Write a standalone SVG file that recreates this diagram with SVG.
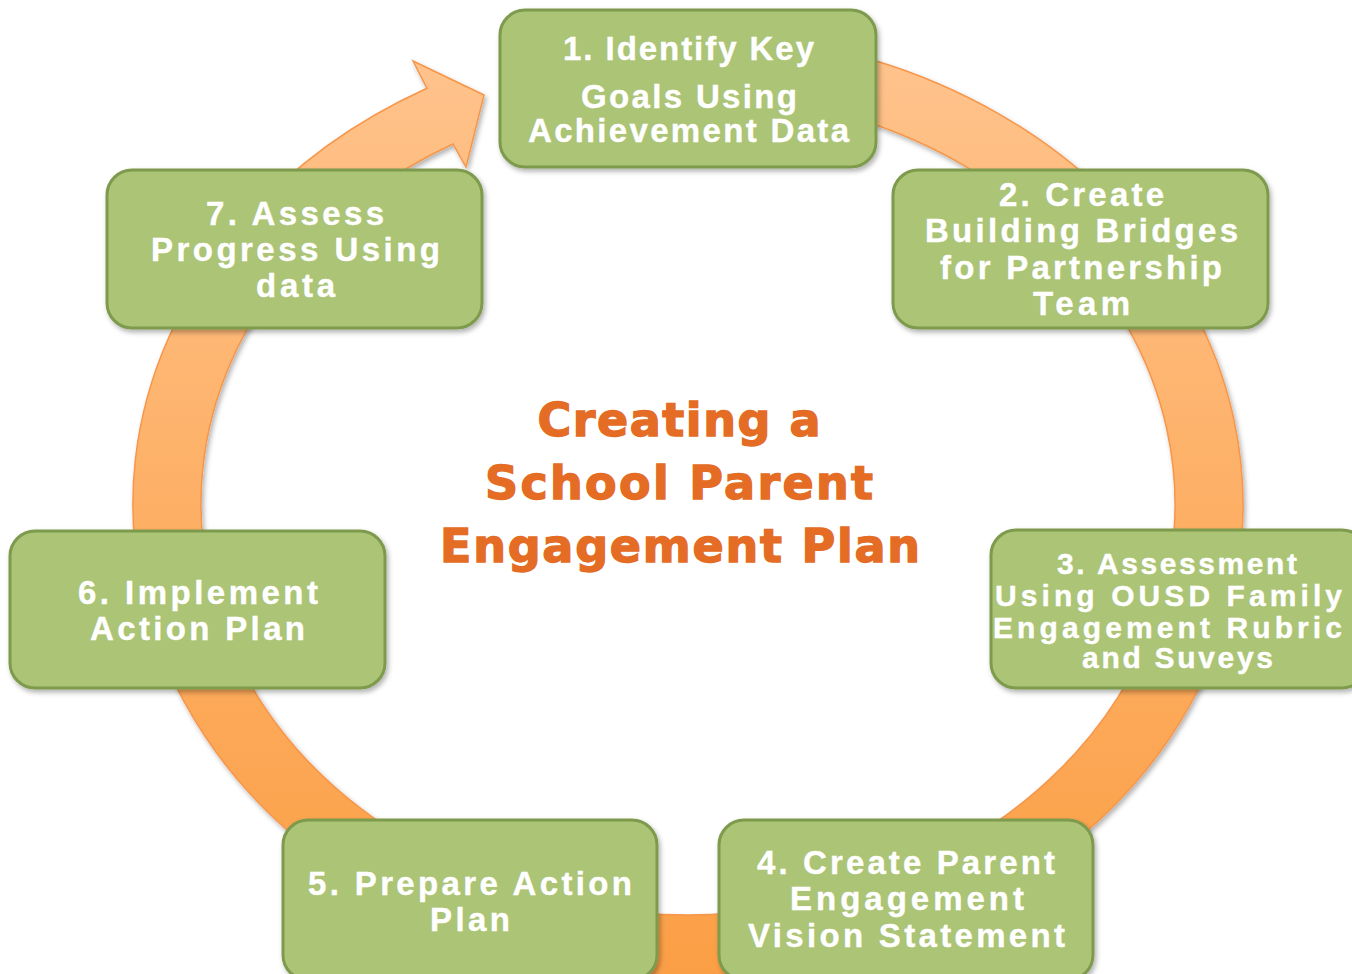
<svg xmlns="http://www.w3.org/2000/svg" width="1352" height="974" viewBox="0 0 1352 974">
<defs>
<linearGradient id="ringGrad" gradientUnits="userSpaceOnUse" x1="0" y1="30" x2="0" y2="974">
<stop offset="0" stop-color="#FFC48E"/>
<stop offset="0.5" stop-color="#FDB066"/>
<stop offset="1" stop-color="#FB9F45"/>
</linearGradient>
<filter id="shadow" x="-10%" y="-10%" width="120%" height="120%">
<feDropShadow dx="2" dy="3" stdDeviation="2.5" flood-color="#000" flood-opacity="0.3"/>
</filter>
<style>
.box{fill:#ABC476;stroke:#7D9A4D;stroke-width:3;filter:url(#shadow)}
.lbl{font-family:"Liberation Sans",Arial,sans-serif;font-weight:bold;font-size:33px;fill:#FFFFFF;stroke:#FFFFFF;stroke-width:0.4;text-anchor:middle}
.sm{font-size:30px}
.title{font-family:"DejaVu Sans",sans-serif;font-weight:bold;font-size:46px;fill:#E46C24;stroke:#E46C24;stroke-width:1.4;text-anchor:middle}
</style>
</defs>
<rect width="1352" height="974" fill="#FFFFFF"/>
<g id="connectors">
<path d="M 620 36.55 A 555 471 0 1 1 427 88.3 L 413 61 L 484 95 L 466 167 L 453 144 A 487 411 0 1 0 628.3 96.1 Z" fill="url(#ringGrad)" stroke="#F7964A" stroke-width="1.5" stroke-linejoin="miter" filter="url(#shadow)"/>
</g>
<g id="title">
<text class="title" x="679" y="436" textLength="283" lengthAdjust="spacing">Creating a</text>
<text class="title" x="679" y="499" textLength="388" lengthAdjust="spacing">School Parent</text>
<text class="title" x="680" y="562" textLength="480" lengthAdjust="spacing">Engagement Plan</text>
</g>
<g id="node1">
<rect class="box" x="500" y="10" width="376" height="157" rx="25"/>
<text class="lbl" x="688.5" y="60" textLength="251" lengthAdjust="spacing">1. Identify Key</text>
<text class="lbl" x="689" y="108" textLength="216" lengthAdjust="spacing">Goals Using</text>
<text class="lbl" x="688.5" y="142" textLength="321" lengthAdjust="spacing">Achievement Data</text>
</g>
<g id="node2">
<rect class="box" x="893" y="170" width="375" height="158" rx="25"/>
<text class="lbl" x="1081.5" y="206" textLength="165" lengthAdjust="spacing">2. Create</text>
<text class="lbl" x="1081.5" y="242" textLength="313" lengthAdjust="spacing">Building Bridges</text>
<text class="lbl" x="1081" y="279" textLength="282" lengthAdjust="spacing">for Partnership</text>
<text class="lbl" x="1081.5" y="315" textLength="97" lengthAdjust="spacing">Team</text>
</g>
<g id="node3">
<rect class="box" x="991" y="530" width="376" height="158" rx="25"/>
<text class="lbl sm" x="1177" y="574" textLength="240" lengthAdjust="spacing">3. Assessment</text>
<text class="lbl sm" x="1168.5" y="606" textLength="347" lengthAdjust="spacing">Using OUSD Family</text>
<text class="lbl sm" x="1167.5" y="638" textLength="349" lengthAdjust="spacing">Engagement Rubric</text>
<text class="lbl sm" x="1177.5" y="668" textLength="191" lengthAdjust="spacing">and Suveys</text>
</g>
<g id="node4">
<rect class="box" x="719" y="820" width="374" height="160" rx="25"/>
<text class="lbl" x="906" y="874" textLength="298" lengthAdjust="spacing">4. Create Parent</text>
<text class="lbl" x="907" y="910" textLength="234" lengthAdjust="spacing">Engagement</text>
<text class="lbl" x="906.5" y="947" textLength="317" lengthAdjust="spacing">Vision Statement</text>
</g>
<g id="node5">
<rect class="box" x="283" y="820" width="374" height="160" rx="25"/>
<text class="lbl" x="470" y="895" textLength="324" lengthAdjust="spacing">5. Prepare Action</text>
<text class="lbl" x="470" y="931" textLength="80" lengthAdjust="spacing">Plan</text>
</g>
<g id="node6">
<rect class="box" x="10" y="531" width="375" height="157" rx="25"/>
<text class="lbl" x="198" y="604" textLength="240" lengthAdjust="spacing">6. Implement</text>
<text class="lbl" x="197.5" y="640" textLength="215" lengthAdjust="spacing">Action Plan</text>
</g>
<g id="node7">
<rect class="box" x="107" y="170" width="375" height="158" rx="25"/>
<text class="lbl" x="295" y="225" textLength="178" lengthAdjust="spacing">7. Assess</text>
<text class="lbl" x="295.5" y="261" textLength="289" lengthAdjust="spacing">Progress Using</text>
<text class="lbl" x="295.5" y="297" textLength="79" lengthAdjust="spacing">data</text>
</g>
</svg>
